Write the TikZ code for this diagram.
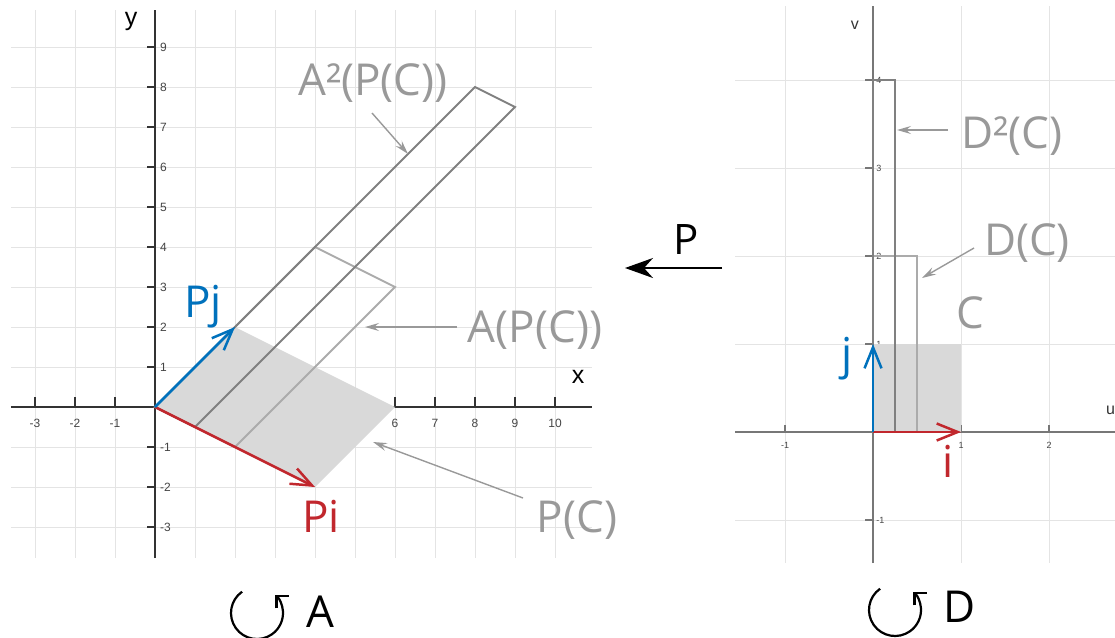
\documentclass[tikz,border=0pt]{standalone}
\usepackage{fontspec}
\setmainfont{Open Sans}
\newfontfamily\arialf{Liberation Sans}
\usetikzlibrary{arrows.meta}
\definecolor{gridc}{HTML}{E4E4E4}
\definecolor{axisLc}{HTML}{333333}
\definecolor{axisRc}{HTML}{777777}
\definecolor{tickc}{HTML}{444444}
\definecolor{shadec}{HTML}{D9D9D9}
\definecolor{lightc}{HTML}{ABABAB}
\definecolor{darkc}{HTML}{808080}
\definecolor{labc}{HTML}{999999}
\definecolor{redc}{HTML}{C1272D}
\definecolor{bluec}{HTML}{0071BC}
\tikzset{
  gridline/.style={draw=gridc, line width=0.9pt},
  axisL/.style={draw=axisLc, line width=1.3pt},
  axisR/.style={draw=axisRc, line width=1.2pt},
  ticklab/.style={font=\arialf\fontsize{12}{12}\selectfont, text=tickc, inner sep=1pt},
  ticklabR/.style={font=\arialf\fontsize{9}{9}\selectfont, text=tickc, inner sep=1pt},
  axname/.style={font=\arialf\fontsize{25}{25}\selectfont, text=black, inner sep=0pt},
  axnameR/.style={font=\arialf\fontsize{16}{16}\selectfont, text=axisLc, inner sep=0pt},
  shadefill/.style={fill=shadec},
  lightout/.style={draw=lightc, line width=2pt},
  darkout/.style={draw=darkc, line width=2pt},
  vecarrow/.style={line width=2.5pt, -{Straight Barb[length=21pt,width=17pt]}},
  redvec/.style={vecarrow, draw=redc},
  bluevec/.style={vecarrow, draw=bluec},
  biglab/.style={font=\fontsize{44}{44}\selectfont, inner sep=0pt, anchor=base},
  graylab/.style={biglab, text=labc},
  annot/.style={draw=labc, line width=1.4pt, -{Stealth[length=14pt,width=8pt,inset=5pt]}},
  bigarrow/.style={draw=black, line width=2pt, -{Stealth[length=28pt,width=20pt,inset=9pt]}},
  cyc/.style={draw=black, line width=2.2pt, -{Straight Barb[length=9pt,width=18pt]}}
}
\begin{document}
\begin{tikzpicture}[x=1pt,y=-1pt]
\useasboundingbox (0,0) rectangle (1115,637);

% ---------------- left plot ----------------
\begin{scope}[shift={(155,407)},x=40pt,y=40pt]
  \foreach \i in {-3,...,10} \draw[gridline] (\i,-3.775) -- (\i,9.925);
  \foreach \j in {-3,...,9} \draw[gridline] (-3.6,\j) -- (10.925,\j);
  \draw[axisL] (-3.6,0) -- (10.925,0);
  \draw[axisL] (0,-3.775) -- (0,9.925);
  \foreach \i in {-3,-2,-1,1,2,3,4,5,6,7,8,9,10} \draw[axisL] (\i,0) -- (\i,0.25);
  \foreach \i in {-3,-2,-1,6,7,8,9,10} \node[ticklab] (xl\i) at (\i,-0.4) {\i};
  \foreach \j in {-3,-2,-1,1,2,3,4,5,6,7,8,9} {
    \draw[axisL] (0,\j) -- (-0.2,\j);
    \node[ticklab,anchor=west] (yl\j) at (0.1,\j) {\j};
  }
  \node[axname] (xname) at (10.575,0.75) {x};
  \node[axname] (yname) at (-0.6,9.65) {y};
  \coordinate (O) at (0,0);
  \coordinate (Pi) at (4,-2);
  \coordinate (Pj) at (2,2);
  \coordinate (Q) at (6,0);
  \fill[shadefill] (O) -- (Pi) -- (Q) -- (Pj) -- cycle;
  \draw[lightout] (0,0) -- (2,-1) -- (6,3) -- (4,4) -- cycle;
  \draw[darkout] (0,0) -- (1,-0.5) -- (9,7.5) -- (8,8) -- cycle;
  \draw[redvec] (O) -- (Pi);
  \draw[bluevec] (O) -- (Pj);
\end{scope}

% left labels
\node[graylab] (lA2) at (373,95) {A²(P(C))};
\node[graylab] (lA1) at (535,342) {A(P(C))};
\node[graylab] (lPC) at (577,532) {P(C)};
\node[biglab, text=redc] (lPi) at (321,532) {Pi};
\node[biglab, text=bluec] (lPj) at (203,317) {Pj};
\coordinate (a2s) at (372,113); \coordinate (a2e) at (408,154);
\coordinate (a1s) at (457,327); \coordinate (a1e) at (365,327);
\coordinate (pcs) at (523,498); \coordinate (pce) at (373,442);
\draw[annot] (a2s) -- (a2e);
\draw[annot] (a1s) -- (a1e);
\draw[annot] (pcs) -- (pce);

% ---------------- right plot ----------------
\begin{scope}[shift={(873,432)},x=88pt,y=88pt]
  \foreach \i in {-1,0,1,2} \draw[gridline] (\i,-1.489) -- (\i,4.841);
  \foreach \j in {-1,...,4} \draw[gridline] (-1.568,\j) -- (2.8,\j);
  \draw[axisR] (-1.568,0) -- (2.8,0);
  \draw[axisR] (0,-1.489) -- (0,4.841);
  \foreach \i in {-1,1,2} {
    \draw[axisR] (\i,0) -- (\i,0.08);
    \node[ticklabR] (ul\i) at (\i,-0.15) {\i};
  }
  \foreach \j in {-1,1,2,3,4} {
    \draw[axisR] (0,\j) -- (-0.09,\j);
    \node[ticklabR,anchor=west] (vl\j) at (0.025,\j) {\j};
  }
  \node[axnameR] (uname) at (2.7,0.25) {u};
  \node[axnameR] (vname) at (-0.205,4.625) {v};
  \coordinate (O2) at (0,0);
  \coordinate (ii) at (1,0);
  \coordinate (jj) at (0,1);
  \fill[shadefill] (0,0) rectangle (1,1);
  \draw[lightout] (0,0) rectangle (0.5,2);
  \draw[darkout] (0,0) rectangle (0.25,4);
  \draw[redvec] (O2) -- (ii);
  \draw[bluevec] (O2) -- (jj);
\end{scope}

% right labels
\node[graylab] (lD2) at (1012,148) {D²(C)};
\node[graylab] (lD1) at (1027,255) {D(C)};
\node[graylab] (lC) at (970,328) {C};
\node[biglab, text=redc] (li) at (948,477) {i};
\node[biglab, text=bluec] (lj) at (847,369) {j};
\coordinate (d2s) at (948,130); \coordinate (d2e) at (897,130);
\coordinate (d1s) at (974,248); \coordinate (d1e) at (922,278);
\draw[annot] (d2s) -- (d2e);
\draw[annot] (d1s) -- (d1e);

% middle arrow P
\node[biglab, text=black, font=\fontsize{42}{42}\selectfont] (lP) at (686,254) {P};
\coordinate (ps) at (722,268); \coordinate (pe) at (625,268);
\draw[bigarrow] (ps) -- (pe);

% bottom cycle symbols
\begin{scope}[shift={(257,613)},x=1pt,y=1pt]
  \draw[cyc] (125:26) arc[start angle=125, end angle=405, radius=26];
\end{scope}
\node[biglab, text=black] (lA) at (320,627) {A};
\begin{scope}[shift={(895,610)},x=1pt,y=1pt]
  \draw[cyc] (125:26) arc[start angle=125, end angle=405, radius=26];
\end{scope}
\node[biglab, text=black] (lD) at (960,622) {D};
\end{tikzpicture}
\end{document}
